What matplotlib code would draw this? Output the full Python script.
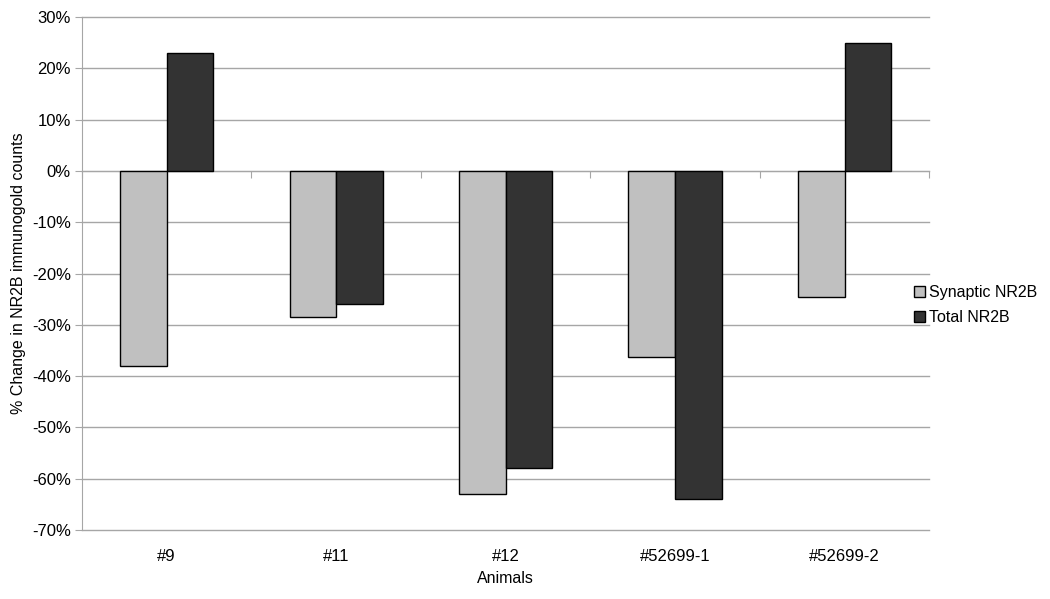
import matplotlib
matplotlib.use("Agg")
import matplotlib.pyplot as plt
import numpy as np
from matplotlib.ticker import FuncFormatter

categories = ["#9", "#11", "#12", "#52699-1", "#52699-2"]
synaptic = [-38.0, -28.4, -63.0, -36.2, -24.5]
total = [23.0, -26.0, -58.0, -64.0, 25.0]
series_names = ["Synaptic NR2B", "Total NR2B"]

plt.rcParams['font.family'] = ['Liberation Sans', 'DejaVu Sans']

fig = plt.figure(figsize=(10.5, 5.99), dpi=100)
ax = fig.add_axes([0.078, 0.1152, 0.807, 0.8564])

x = np.arange(len(categories))
w = 0.275
grid_c = "#a6a6a6"
ax.bar(x - w/2, synaptic, w, color="#c0c0c0", edgecolor="black", linewidth=1.0, zorder=3, label=series_names[0])
ax.bar(x + w/2, total, w, color="#333333", edgecolor="black", linewidth=1.0, zorder=3, label=series_names[1])

ax.set_xlim(-0.5, len(categories) - 0.5)
ax.set_ylim(-70, 30)
ax.set_yticks(np.arange(-70, 31, 10))
ax.yaxis.set_major_formatter(FuncFormatter(lambda v, p: f"{int(round(v))}%"))
ax.yaxis.grid(True, color=grid_c, linewidth=1.0, zorder=0)
for gl in ax.yaxis.get_gridlines():
    gl.set_clip_on(False)
ax.set_axisbelow(True)

for s in ["top", "right"]:
    ax.spines[s].set_visible(False)
ax.spines["left"].set_color(grid_c)
ax.spines["bottom"].set_position(("data", 0))
ax.spines["bottom"].set_color(grid_c)
ax.spines["bottom"].set_zorder(2)

ax.set_xticks(np.arange(len(categories) + 1) - 0.5)
ax.tick_params(axis="x", which="major", direction="out", length=5, color=grid_c, labelbottom=False)
ax.tick_params(axis="y", direction="out", length=5, color=grid_c, labelsize=12, labelcolor="black", pad=3)

sec = ax.secondary_xaxis(0.0)
sec.set_xticks(x)
sec.set_xticklabels(categories)
sec.tick_params(length=0, labelsize=12, pad=14)
sec.spines["bottom"].set_visible(False)
sec.set_xlabel("Animals", fontsize=11.5, labelpad=5)

ax.set_ylabel("% Change in NR2B immunogold counts", fontsize=11.5, labelpad=4)

leg = fig.legend(loc="center left", bbox_to_anchor=(0.857, 0.491), frameon=False,
                 fontsize=11.5, handlelength=0.7, handleheight=0.7, handletextpad=0.25,
                 labelspacing=0.6)

fig.savefig("out.png", dpi=100)
